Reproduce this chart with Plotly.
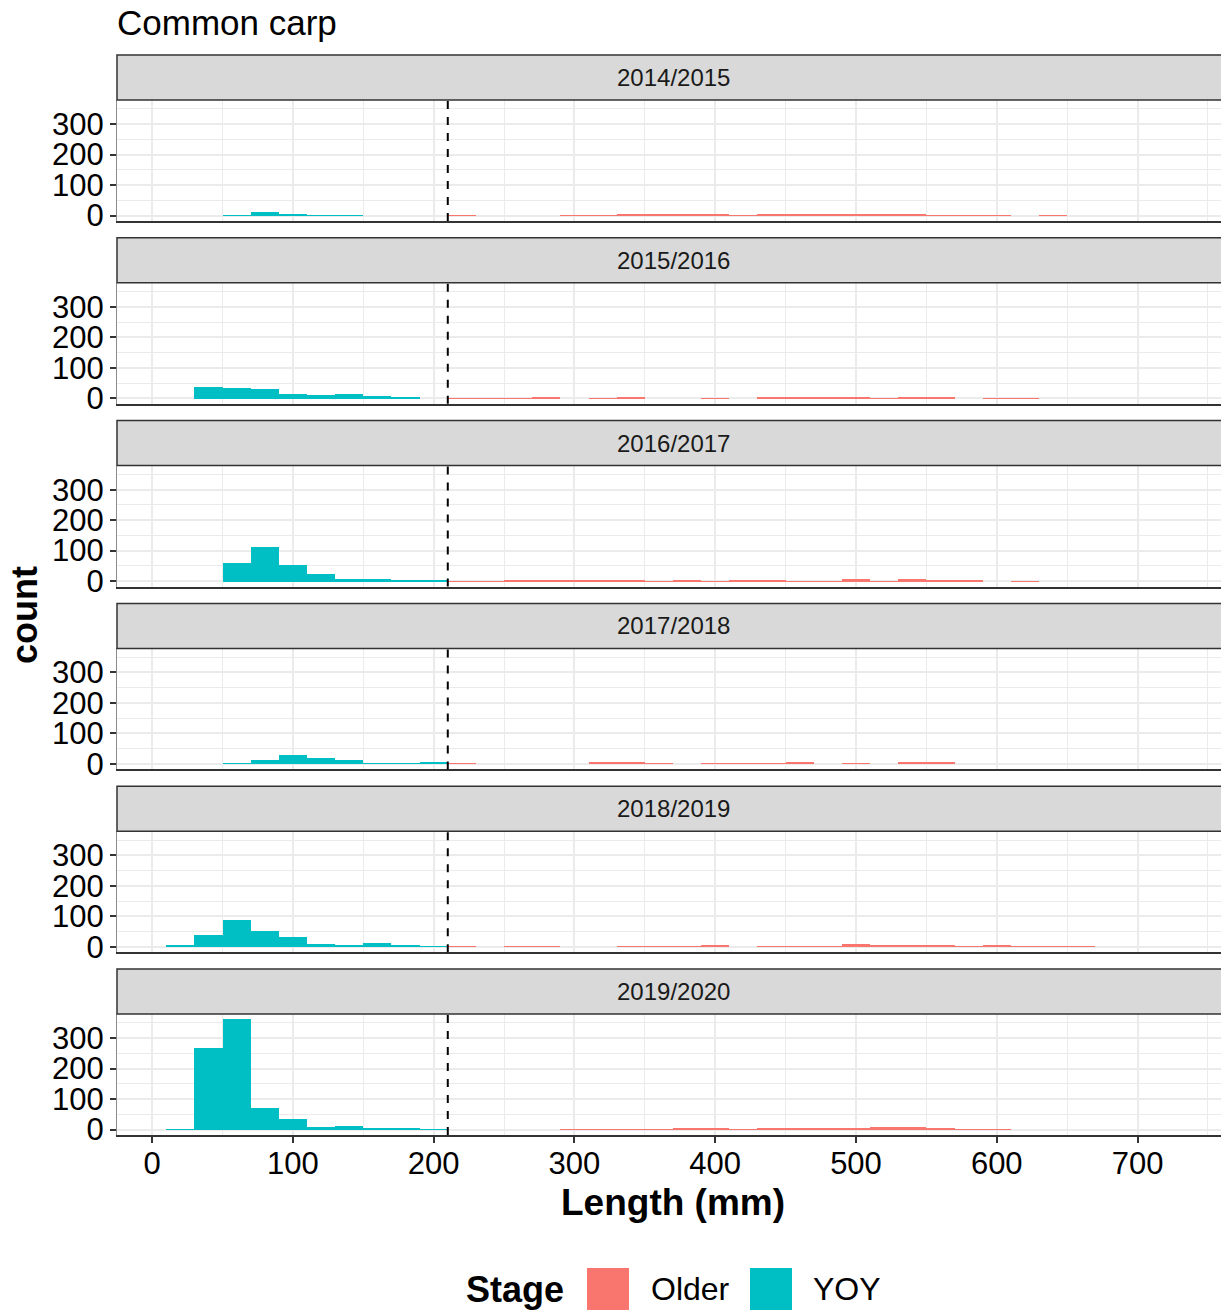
import plotly.graph_objects as go

# ---------------- data ----------------
years = ["2014/2015", "2015/2016", "2016/2017", "2017/2018", "2018/2019", "2019/2020"]

# histogram bin centres (bin width 20 mm, edges at 10, 30, 50, ...)
yoy_bins = [20, 40, 60, 80, 100, 120, 140, 160, 180, 200]
older_bins = [220, 240, 260, 280, 300, 320, 340, 360, 380, 400, 420, 440,
              460, 480, 500, 520, 540, 560, 580, 600, 620, 640, 660]

yoy_2014_2015 = [0, 0, 1, 12, 3, 1, 1, 0, 0, 0]
older_2014_2015 = [1, 0, 0, 0, 1, 1, 4, 2, 2, 2, 1, 4, 2, 6, 2, 4, 2, 1, 1, 1, 0, 1, 0]

yoy_2015_2016 = [0, 39, 36, 30, 14, 13, 14, 7, 4, 0]
older_2015_2016 = [1, 1, 1, 3, 0, 1, 3, 0, 0, 1, 0, 2, 2, 2, 3, 1, 4, 5, 0, 1, 1, 0, 0]

yoy_2016_2017 = [0, 0, 60, 113, 54, 25, 9, 9, 6, 5]
older_2016_2017 = [1, 1, 5, 3, 4, 3, 4, 1, 3, 1, 2, 2, 1, 1, 8, 1, 8, 6, 2, 0, 1, 0, 0]

yoy_2017_2018 = [0, 0, 1, 12, 27, 18, 12, 1, 1, 6]
older_2017_2018 = [1, 0, 0, 0, 0, 2, 4, 1, 0, 1, 1, 1, 3, 0, 1, 0, 3, 3, 0, 0, 0, 0, 0]

yoy_2018_2019 = [5, 39, 88, 50, 31, 8, 6, 12, 4, 1]
older_2018_2019 = [1, 0, 1, 1, 0, 0, 1, 1, 1, 4, 0, 1, 1, 1, 7, 5, 5, 2, 1, 2, 1, 1, 1]

yoy_2019_2020 = [1, 268, 361, 70, 33, 9, 12, 6, 3, 1]
older_2019_2020 = [0, 0, 0, 0, 1, 1, 1, 1, 2, 3, 1, 3, 6, 2, 5, 8, 8, 4, 1, 1, 0, 0, 0]

yoy_counts = [yoy_2014_2015, yoy_2015_2016, yoy_2016_2017, yoy_2017_2018, yoy_2018_2019, yoy_2019_2020]
older_counts = [older_2014_2015, older_2015_2016, older_2016_2017, older_2017_2018, older_2018_2019, older_2019_2020]

stages = ["Older", "YOY"]
stage_colors = {"Older": "#F8766D", "YOY": "#00BFC4"}
bin_width = 20
cutoff = 210
x_ticks = [0, 100, 200, 300, 400, 500, 600, 700]
y_ticks = [0, 100, 200, 300]

# ---------------- layout helpers ----------------
OFF = 8  # page body margin
W, H = 1229 - OFF, 1312 - OFF
ML, MR, MT, MB = 117 - OFF, 0, 55 - OFF, 177
plot_h = H - MT - MB
plot_w = W - ML - MR
FONT = "Liberation Sans, Arial, sans-serif"
period = 182.8
strip_h = 45
panel_h = 121
REF_BOTTOM = 1135  # reference pixel y of the lowest panel bottom


def py(px):
    return (REF_BOTTOM - px) / plot_h


def pxx(px):
    return (px - 117) / plot_w


fig = go.Figure()
shapes = []
annotations = []
layout_axes = {}

for k, yr in enumerate(years):
    suf = "" if k == 0 else str(k + 1)
    xa, ya = "x" + suf, "y" + suf
    fig.add_trace(go.Bar(x=older_bins, y=older_counts[k], width=bin_width,
                         marker=dict(color=stage_colors["Older"], line=dict(width=0)),
                         name="Older", showlegend=False, xaxis=xa, yaxis=ya))
    fig.add_trace(go.Bar(x=yoy_bins, y=yoy_counts[k], width=bin_width,
                         marker=dict(color=stage_colors["YOY"], line=dict(width=0)),
                         name="YOY", showlegend=False, xaxis=xa, yaxis=ya))

    s_top = 55 + period * k
    s_bot = s_top + strip_h
    p_bot = s_top + panel_h + strip_h

    last = (k == len(years) - 1)
    layout_axes["xaxis" + suf] = dict(
        domain=[0, 1], range=[-25, 765], anchor=ya,
        tickvals=x_ticks, showticklabels=last,
        ticks="outside" if last else "", ticklen=6, tickwidth=1.5, tickcolor="#333333",
        ticklabelstandoff=-6,
        tickfont=dict(family=FONT, size=31, color="black"),
        showgrid=True, gridcolor="#EBEBEB", gridwidth=1.5,
        minor=dict(dtick=50, tick0=0, showgrid=True, gridcolor="#EBEBEB", gridwidth=0.8),
        showline=True, linecolor="#333333", linewidth=2,
        zeroline=False, fixedrange=True,
        **({} if k == 0 else {"matches": "x"}))
    layout_axes["yaxis" + suf] = dict(
        domain=[py(p_bot), py(s_bot)], range=[-18, 379], anchor=xa,
        tickvals=y_ticks, ticks="outside", ticklen=6, tickwidth=1.5, tickcolor="#333333",
        tickfont=dict(family=FONT, size=31, color="black"),
        showgrid=True, gridcolor="#EBEBEB", gridwidth=1.5,
        minor=dict(dtick=50, tick0=0, showgrid=True, gridcolor="#EBEBEB", gridwidth=0.8),
        showline=True, linecolor="#8C8C8C", linewidth=1,
        zeroline=False, fixedrange=True)

    # strip
    shapes.append(dict(type="rect", xref="paper", yref="paper",
                       x0=0, x1=1.002, y0=py(s_bot), y1=py(s_top),
                       fillcolor="#D9D9D9", line=dict(color="#333333", width=1.5), layer="above"))
    annotations.append(dict(text=yr, xref="paper", yref="paper",
                            x=0.5, y=py((s_top + s_bot) / 2), xanchor="center", yanchor="middle",
                            showarrow=False, font=dict(family=FONT, size=24, color="#1A1A1A")))
    # cutoff line
    shapes.append(dict(type="line", xref=xa, yref=ya + " domain",
                       x0=cutoff, x1=cutoff, y0=0, y1=1,
                       line=dict(color="black", width=2, dash="8px,8px"), layer="above"))

# axis titles
annotations.append(dict(text="<b>count</b>", xref="paper", yref="paper",
                        x=pxx(24), y=py(615), textangle=-90, xanchor="center", yanchor="middle",
                        showarrow=False, font=dict(family=FONT, size=36, color="black")))
annotations.append(dict(text="<b>Length (mm)</b>", xref="paper", yref="paper",
                        x=0.5, y=py(1202), xanchor="center", yanchor="middle",
                        showarrow=False, font=dict(family=FONT, size=37, color="black")))

# custom legend
leg_y = 1289
annotations.append(dict(text="<b>Stage</b>", xref="paper", yref="paper",
                        x=pxx(464), y=py(leg_y), xanchor="left", yanchor="middle",
                        showarrow=False, font=dict(family=FONT, size=36, color="black")))
key_x = [587, 750]
lab_x = [649, 811]
for i, st in enumerate(stages):
    shapes.append(dict(type="rect", xref="paper", yref="paper",
                       x0=pxx(key_x[i]), x1=pxx(key_x[i] + 42),
                       y0=py(leg_y + 21), y1=py(leg_y - 21),
                       fillcolor=stage_colors[st], line=dict(width=0)))
    annotations.append(dict(text=st, xref="paper", yref="paper",
                            x=pxx(lab_x[i]), y=py(leg_y), xanchor="left", yanchor="middle",
                            showarrow=False, font=dict(family=FONT, size=32, color="black")))

fig.update_layout(
    width=W, height=H, autosize=False,
    margin=dict(l=ML, r=MR, t=MT, b=MB, pad=0),
    paper_bgcolor="white", plot_bgcolor="white",
    barmode="stack", bargap=0,
    showlegend=False,
    title=dict(text="Common carp", x=ML / W, xanchor="left", xref="container",
               y=1 - (23 - OFF) / H, yanchor="middle",
               font=dict(family=FONT, size=35, color="black")),
    shapes=shapes, annotations=annotations,
    **layout_axes)

fig.write_html("out.html")
